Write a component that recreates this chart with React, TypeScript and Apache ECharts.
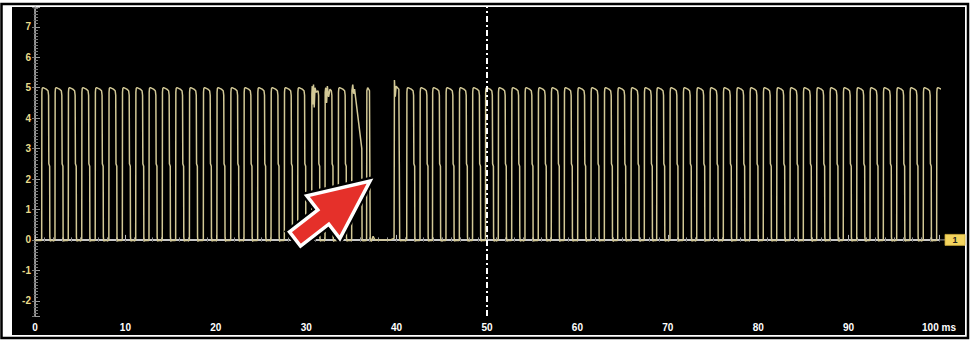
import React, { useEffect, useRef } from "react";
import * as echarts from "echarts";

// X axis (ms) and Y axis (V) ranges
const X_MIN = 0;
const X_MAX = 100;
const X_INTERVAL = 10;
const X_UNIT = "ms";
const Y_MIN = -2.5;
const Y_MAX = 7.65;

// Rising-edge times (ms) of the regular 0-5 V pulses
const PULSE_STARTS = [
  0.74, 2.21, 3.68, 5.17, 6.66, 8.17, 9.66, 11.14, 12.61, 14.08, 15.56, 17.08,
  18.62, 20.12, 21.65, 23.12, 24.63, 26.11, 27.58, 29.06, 30.61, 32.08, 33.55,
  41.12, 42.59, 43.97, 45.46, 46.94, 48.4, 49.83, 51.25, 52.73, 54.2, 55.67,
  57.11, 58.55, 60.03, 61.5, 62.98, 64.46, 65.93, 67.4, 68.77, 70.24, 71.71,
  73.2, 74.67, 76.14, 77.62, 79.09, 80.56, 82.05, 83.52, 84.99, 86.47, 87.94,
  89.41, 90.9, 92.37, 93.84, 95.32, 96.79, 98.26, 99.74,
];

// Typical pulse top (offset ms from rise, volts)
const PULSE_TOP = [
  [0.02, 4.85], [0.06, 4.98], [0.15, 5.0], [0.5, 4.95], [0.7, 4.9], [0.76, 4.75],
];
// Falling edge (offset ms from rise, volts)
const PULSE_FALL = [
  [0.79, 2.5], [0.88, 2.42], [0.9, 0.1], [0.95, -0.04], [1.05, -0.02],
];

// Noisy pulse tops around 30-33 ms
const NOISY_TOP_30 = [
  [0.02, 4.8], [0.06, 5.05], [0.12, 4.45], [0.2, 5.1], [0.28, 4.35], [0.36, 5.0], [0.5, 4.85], [0.7, 4.9], [0.76, 4.75],
];
const NOISY_TOP_32 = [
  [0.02, 4.85], [0.08, 5.0], [0.18, 4.5], [0.26, 5.05], [0.4, 4.7], [0.55, 4.95], [0.7, 4.9], [0.76, 4.75],
];

// Drop-out region between 34.6 ms and 41.1 ms
const GLITCH_AFTER = 33.55;
const GLITCH_TRACE = [
  [35.0, -0.02], [35.03, 0.05], [35.06, 4.9], [35.15, 5.1], [35.25, 4.8], [35.35, 4.95],
  [36.15, 3.0], [36.18, 0.05], [36.25, -0.03], [36.65, -0.02], [36.68, 0.05],
  [36.71, 4.9], [36.8, 5.0], [37.0, 4.9], [37.04, 2.5], [37.08, 0.05], [37.2, -0.05],
  [37.4, 0.12], [37.6, 0.0], [39.3, 0.0], [39.72, 0.05], [39.76, 5.25], [39.85, 4.7],
  [39.95, 5.05], [40.25, 4.95], [40.3, 2.5], [40.34, 0.05], [40.4, -0.03], [40.6, -0.02],
];

function buildTrace(): number[][] {
  const pts: number[][] = [[X_MIN, -0.02]];
  let inserted = false;
  for (const s of PULSE_STARTS) {
    if (!inserted && s > GLITCH_AFTER + 0.1) {
      for (const p of GLITCH_TRACE) pts.push(p);
      inserted = true;
    }
    pts.push([s - 0.03, -0.02], [s, 0.05]);
    let top = PULSE_TOP;
    if (s === 30.61) top = NOISY_TOP_30;
    if (s === 32.08) top = NOISY_TOP_32;
    for (const o of top) pts.push([s + o[0], o[1]]);
    for (const o of PULSE_FALL) pts.push([s + o[0], o[1]]);
  }
  return pts;
}

export default function App() {
  const ref = useRef<HTMLDivElement>(null);

  useEffect(() => {
    if (!ref.current) return;
    const chart = echarts.init(ref.current, null, { renderer: "svg" });
    const font = "'Liberation Sans', Arial, sans-serif";
    const grid = { left: 35, right: 31, top: 7, bottom: 25 };

    chart.setOption({
      animation: false,
      backgroundColor: "#ffffff",
      grid,
      xAxis: [
        {
          type: "value",
          position: "bottom",
          min: X_MIN,
          max: X_MAX,
          interval: X_INTERVAL,
          axisLine: { show: true, lineStyle: { color: "#c8c8c8", width: 2 } },
          axisTick: { show: true, inside: true, length: 5, lineStyle: { color: "#bbbbbb" } },
          minorTick: { show: true, splitNumber: 10, length: 2.5, lineStyle: { color: "#9a9a9a" } },
          splitLine: { show: false },
          axisLabel: {
            color: "#ffffff",
            fontSize: 10,
            fontWeight: "bold",
            fontFamily: font,
            margin: 6,
            formatter: (v: number) => (v === X_MAX ? `${v} ${X_UNIT}` : `${v}`),
          },
        },
        {
          type: "value",
          position: "top",
          min: X_MIN,
          max: X_MAX,
          interval: 1,
          axisLine: { show: false },
          axisTick: { show: true, inside: true, length: 2, lineStyle: { color: "#6a6a6a" } },
          splitLine: { show: false },
          axisLabel: { show: false },
        },
      ],
      yAxis: [
        {
          type: "value",
          position: "left",
          min: Y_MIN,
          max: Y_MAX,
          splitNumber: 10,
          axisLine: { show: true, lineStyle: { color: "#bdbdbd", width: 1.5 } },
          axisTick: { show: true, inside: true, length: 5, lineStyle: { color: "#9a9a9a" } },
          minorTick: { show: true, splitNumber: 10, length: 3, lineStyle: { color: "#7a7a7a" } },
          splitLine: { show: false },
          axisLabel: {
            color: "#eadb8a",
            fontSize: 10,
            fontWeight: "bold",
            fontFamily: font,
            margin: 4,
            showMinLabel: false,
            showMaxLabel: false,
          },
        },
        {
          type: "value",
          position: "right",
          min: Y_MIN,
          max: Y_MAX,
          splitNumber: 10,
          axisLine: { show: true, lineStyle: { color: "#9a9a9a", width: 1 } },
          axisTick: { show: true, inside: true, length: 3, lineStyle: { color: "#777" } },
          minorTick: { show: true, splitNumber: 5, length: 1.5, lineStyle: { color: "#555" } },
          splitLine: { show: false },
          axisLabel: { show: false },
        },
      ],
      series: [
        {
          type: "line",
          xAxisIndex: 0,
          yAxisIndex: 0,
          data: buildTrace(),
          showSymbol: false,
          symbol: "none",
          clip: true,
          lineStyle: { color: "#d2c896", width: 1.5 },
          z: 3,
          markLine: {
            silent: true,
            symbol: ["none", "none"],
            label: { show: false },
            lineStyle: { color: "#ffffff", width: 2, type: [6, 3, 2, 3] },
            data: [{ xAxis: 50 }],
          },
        },
      ],
    });

    // Annotations placed through the axis scale
    const p0 = chart.convertToPixel({ xAxisIndex: 0, yAxisIndex: 0 }, [X_MAX, 0]) as number[];
    const mx = p0[0];
    const my = p0[1];

    // Arrow geometry (annotation), pointing up-right at the drop-out
    const tail = [295, 239];
    const tip = [370, 181];
    const dx = tip[0] - tail[0];
    const dy = tip[1] - tail[1];
    const L = Math.hypot(dx, dy);
    const c = dx / L;
    const sn = dy / L;
    const local = [
      [0, -9], [L - 59, -9], [L - 59, -27], [L, 0], [L - 59, 27], [L - 59, 9], [0, 9],
    ];
    const arrowPts = local.map(([u, v]) => [tail[0] + u * c - v * sn, tail[1] + u * sn + v * c]);

    chart.setOption({
      graphic: [
        {
          type: "rect",
          z: -10,
          silent: true,
          shape: { x: 1.5, y: 4, width: 966.5, height: 334 },
          style: { fill: "#ffffff", stroke: "#000000", lineWidth: 2.5 },
        },
        {
          type: "rect",
          z: -9,
          silent: true,
          shape: { x: 12, y: 7, width: 953, height: 328 },
          style: { fill: "#000000" },
        },
        {
          type: "line",
          z: 5,
          silent: true,
          shape: { x1: mx, y1: my, x2: mx + 6, y2: my },
          style: { stroke: "#9a9a9a", lineWidth: 1 },
        },
        {
          type: "rect",
          z: 5,
          silent: true,
          shape: { x: mx + 6, y: my - 5.5, width: 20, height: 11 },
          style: { fill: "#f3d45e", stroke: "#c9a93a", lineWidth: 0.8 },
        },
        {
          type: "text",
          z: 6,
          silent: true,
          x: mx + 16,
          y: my,
          style: {
            text: "1",
            fill: "#222222",
            fontSize: 9,
            fontWeight: "bold",
            fontFamily: font,
            align: "center",
            verticalAlign: "middle",
          },
        },
        {
          type: "polygon",
          z: 10,
          silent: true,
          shape: { points: arrowPts },
          style: { fill: "#000000", stroke: "#000000", lineWidth: 8, lineJoin: "miter" },
        },
        {
          type: "polygon",
          z: 11,
          silent: true,
          shape: { points: arrowPts },
          style: { fill: "#e5302a", stroke: "#ffffff", lineWidth: 3.5, lineJoin: "miter" },
        },
      ],
    });

    return () => chart.dispose();
  }, []);

  return (
    <div
      ref={ref}
      style={{ position: "fixed", left: 0, top: 0, width: 970, height: 341 }}
    />
  );
}
